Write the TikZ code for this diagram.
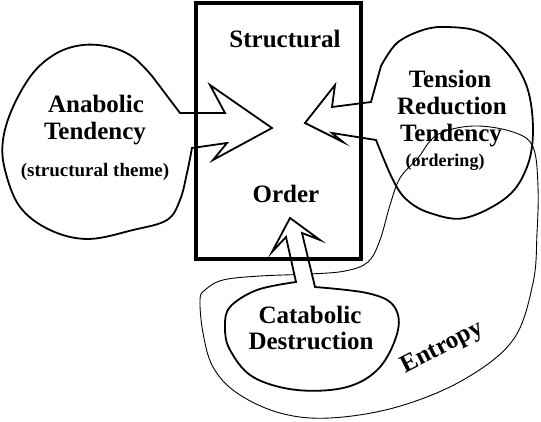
\documentclass[tikz,border=0pt]{standalone}
\usepackage{fontspec}
\setmainfont{Liberation Serif}
\begin{document}
\begin{tikzpicture}[x=1pt,y=-1pt,line join=miter,
  blob/.style={draw=black,line width=1.8pt},
  thinline/.style={draw=black,line width=0.9pt},
  frame/.style={draw=black,line width=4pt},
  big/.style={font=\bfseries\fontsize{25}{27}\selectfont,anchor=base,inner sep=0pt},
  small/.style={font=\bfseries\fontsize{18}{20}\selectfont,anchor=base,inner sep=0pt}]
\useasboundingbox (0,0) rectangle (541,422);
% entropy loop
\draw[thinline] plot[smooth cycle,tension=0.6] coordinates {
 (200,300) (203,333) (213,367) (237,393) (280,413) (330,418) (397,407) (463,380)
 (513,340) (533,283) (537,233) (538,187) (533,147) (513,132) (473,126) (437,135)
 (418,158) (400,178) (390,205) (380,240) (368,262) (345,271) (310,274) (260,276) (223,280) (205,290)};
% catabolic
\draw[blob,fill=white] (296,282) -- (286,237) -- (272,252) -- (290,218) -- (320,240) -- (302,233) -- (315,287)
 -- plot[smooth,tension=0.6] coordinates {(315,287) (367,293) (393,305) (398,330) (380,367) (347,387) (297,390)
 (253,377) (230,350) (225,327) (230,307) (257,290) (296,282)} -- cycle;
% box
\draw[frame] (195.5,3.5) rectangle (361,259);
% anabolic
\draw[blob] (180,113) -- (225,113) -- (210,85) -- (272,128) -- (213,160) -- (227,143) -- (192,148)
 -- plot[smooth,tension=0.6] coordinates {(192,148) (187,173) (180,200) (167,220) (133,230) (88,239)
 (50,230) (20,207) (5,170) (3,140) (13,107) (33,73) (57,53) (83,45) (110,47) (133,57) (152,76)} -- cycle;
% tension
\draw[blob] (371,102) -- (332,107) -- (335,85) -- (305,123) -- (343,142) -- (332,133) -- (376,140)
 -- plot[smooth,tension=0.6] coordinates {(376,140) (393,180) (407,200) (430,213) (465,218) (507,197)
 (527,167) (533,130) (527,87) (507,53) (480,32) (447,27) (423,30) (397,43) (381,66)} -- cycle;
% texts
\node[big] (structural) at (285,48) {Structural};
\node[big] (order) at (286,203) {Order};
\node[big] (anab1) at (96,113) {Anabolic};
\node[big] (anab2) at (95,140) {Tendency};
\node[small,font=\bfseries\fontsize{19}{21}\selectfont] (anab3) at (95,177) {(structural theme)};
\node[big] (ten1) at (450,88) {Tension};
\node[big] (ten2) at (452,115) {Reduction};
\node[big] (ten3) at (451,142) {Tendency};
\node[small] (ten4) at (445,167) {(ordering)};
\node[big] (cat1) at (310,323) {Catabolic};
\node[big] (cat2) at (311,349) {Destruction};
\node[big,rotate=27] (entropy) at (445,353) {Entropy};
\end{tikzpicture}
\end{document}
